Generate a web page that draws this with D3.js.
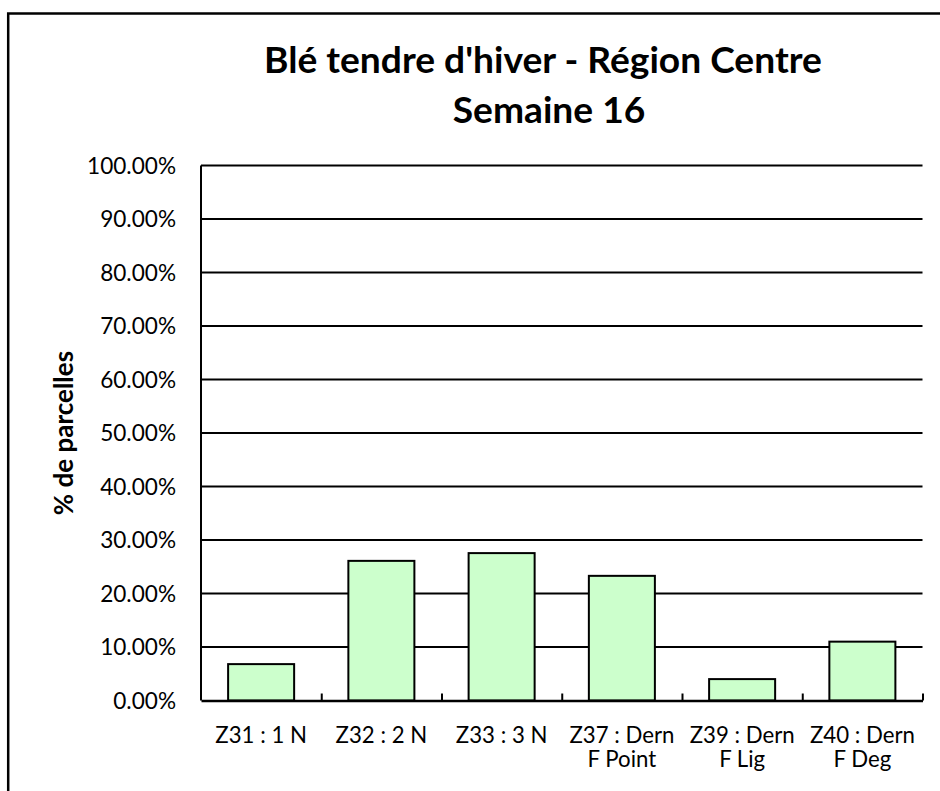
<!DOCTYPE html>
<html>
<head>
<meta charset="utf-8">
<script src="https://cdn.jsdelivr.net/npm/d3@7"></script>
<style>
  html, body { margin: 0; padding: 0; background: #fff; }
  svg { display: block; }
  text { font-family: Lato, "Open Sans", sans-serif; fill: #000; }
</style>
</head>
<body>
<svg id="chart" width="940" height="791"></svg>
<script>
// ---- data ----
const titleLines = ["Blé tendre d'hiver - Région Centre", "Semaine 16"];
const yAxisTitle = "% de parcelles";
const categories = [
  ["Z31 : 1 N"],
  ["Z32 : 2 N"],
  ["Z33 : 3 N"],
  ["Z37 : Dern", "F Point"],
  ["Z39 : Dern", "F Lig"],
  ["Z40 : Dern", "F Deg"]
];
const values = [6.8, 26.1, 27.55, 23.3, 4.0, 11.0];
const yTicks = [0, 10, 20, 30, 40, 50, 60, 70, 80, 90, 100];

// ---- layout ----
const svg = d3.select("#chart");
const plot = { left: 201, right: 922.5, top: 165.5, bottom: 700.5 };

function fitSize(sel, target) {
  sel.attr("font-size", 100);
  const w = sel.node().getComputedTextLength();
  const s = 100 * target / w;
  sel.attr("font-size", s);
  return s;
}

// outer border (only top & left visible)
svg.append("path")
  .attr("d", `M8.2,791 V13.5 H940`)
  .attr("fill", "none").attr("stroke", "#000").attr("stroke-width", 2.5);

const x = d3.scaleBand()
  .domain(d3.range(categories.length))
  .range([plot.left, plot.right])
  .paddingInner(0.451).paddingOuter(0.2255);

const y = d3.scaleLinear().domain([0, 100]).range([plot.bottom, plot.top]);

// gridlines
svg.append("g").selectAll("line").data(yTicks.filter(d => d > 0)).join("line")
  .attr("x1", plot.left).attr("x2", plot.right)
  .attr("y1", d => y(d)).attr("y2", d => y(d))
  .attr("stroke", "#000").attr("stroke-width", 2);

// bars
svg.append("g").selectAll("rect").data(values).join("rect")
  .attr("x", (d, i) => x(i))
  .attr("width", x.bandwidth())
  .attr("y", d => y(d))
  .attr("height", d => y(0) - y(d))
  .attr("fill", "#CCFFCC")
  .attr("stroke", "#000").attr("stroke-width", 2);

// y axis line
svg.append("line")
  .attr("x1", plot.left).attr("x2", plot.left)
  .attr("y1", plot.top).attr("y2", plot.bottom)
  .attr("stroke", "#000").attr("stroke-width", 2);

// x axis line with inside ticks at category boundaries
const xAxis = d3.axisTop(d3.scaleLinear().domain([0, categories.length]).range([plot.left, plot.right]))
  .tickValues(d3.range(1, categories.length + 1))
  .tickSize(7).tickSizeOuter(0).tickFormat("");
const xg = svg.append("g").attr("transform", `translate(0,${plot.bottom})`).call(xAxis);
xg.select(".domain").attr("stroke", "#000").attr("stroke-width", 2.5);
xg.selectAll(".tick line").attr("stroke", "#000").attr("stroke-width", 2);

// y tick labels
const probeY = svg.append("text").text("100.00%");
const ySize = fitSize(probeY, 89);
probeY.remove();
svg.append("g").selectAll("text").data(yTicks).join("text")
  .attr("x", 176).attr("y", d => y(d)).attr("dy", "0.36em")
  .attr("text-anchor", "end").attr("fill", "#222")
  .attr("font-size", ySize)
  .text(d => d3.format(".2f")(d) + "%");

// category labels
const probe = svg.append("text").text(categories[3][0]);
const cSize = fitSize(probe, 105);
probe.remove();
const cl = svg.append("g").selectAll("g").data(categories).join("g")
  .attr("transform", (d, i) => `translate(${x(i) + x.bandwidth() / 2},0)`);
cl.selectAll("text").data(d => d).join("text")
  .attr("x", 0).attr("y", (d, j) => 742.5 + j * 24.5)
  .attr("text-anchor", "middle").attr("fill", "#222")
  .attr("font-size", cSize)
  .text(d => d);

// title
const t1 = svg.append("text").attr("x", 543).attr("y", 73)
  .attr("text-anchor", "middle").attr("font-weight", "bold").text(titleLines[0]);
const tSize = fitSize(t1, 558);
svg.append("text").attr("x", 549).attr("y", 123)
  .attr("text-anchor", "middle").attr("font-weight", "bold")
  .attr("font-size", tSize).text(titleLines[1]);

// y axis title
svg.append("text")
  .attr("transform", `translate(73,${(plot.top + plot.bottom) / 2}) rotate(-90)`)
  .attr("text-anchor", "middle").attr("font-weight", "bold")
  .attr("font-size", 26).text(yAxisTitle);
</script>
</body>
</html>
